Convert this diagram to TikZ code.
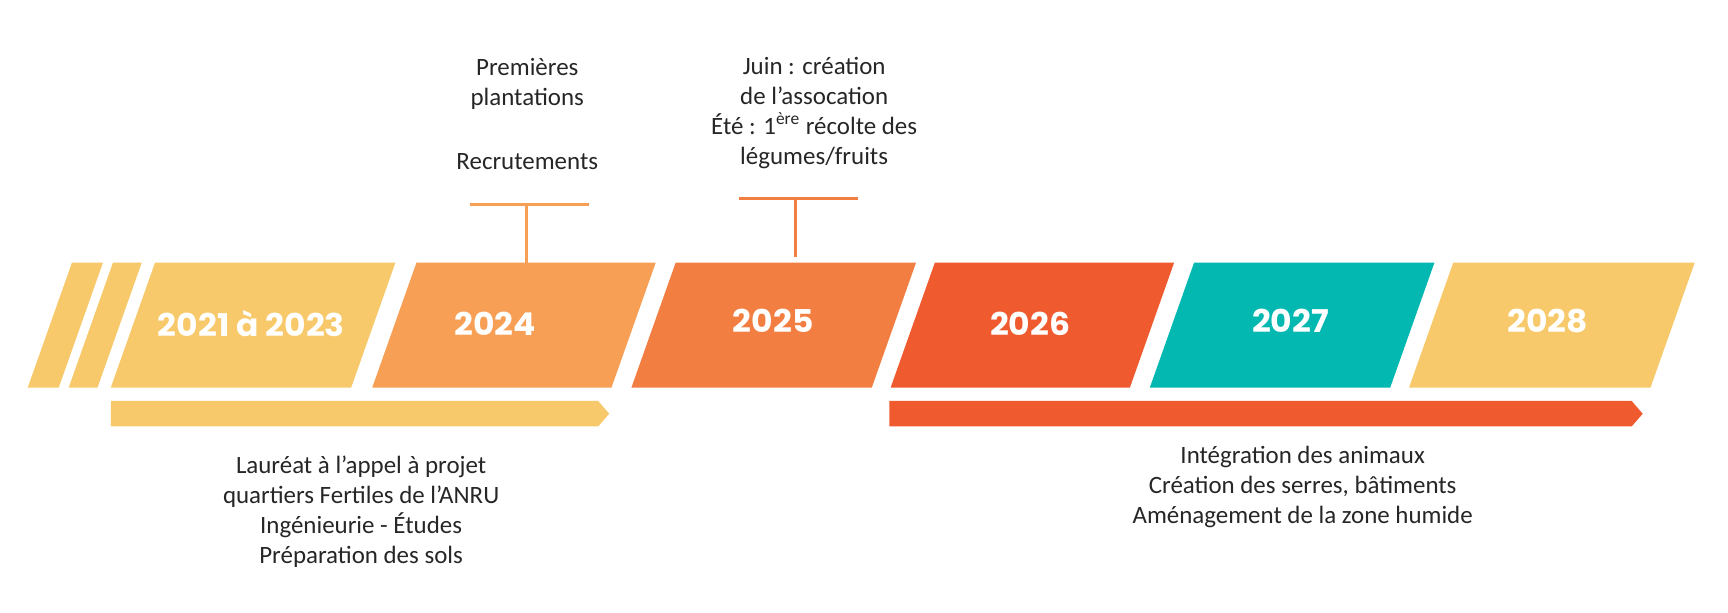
\documentclass[tikz,border=0pt]{standalone}
\usepackage{fontspec}
\setmainfont{Carlito}
\newfontfamily\yearfont{Poppins}[FakeStretch=1.05]
\usetikzlibrary{positioning}
\definecolor{cyellow}{HTML}{F8C96A}
\definecolor{corange}{HTML}{F79F55}
\definecolor{cdark}{HTML}{F27F41}
\definecolor{cred}{HTML}{EF5B2F}
\definecolor{cteal}{HTML}{02B8B0}
\tikzset{
  year/.style={text=white, font=\yearfont\bfseries\fontsize{17}{17}\selectfont},
  note/.style={align=center, font=\fontsize{13.5}{16.2}\selectfont, text=black!85},
  tick/.style={line width=1.6pt},
}
\newcommand{\slab}[3]{\fill[#3] (#1+40,237) -- (#2+40,237) -- (#2,350) -- (#1,350) -- cycle;}

\begin{document}
\begin{tikzpicture}[x=0.6pt,y=-0.6pt]
\useasboundingbox (0,0) rectangle (1560,553);
\slab{25}{53}{cyellow}
\slab{62}{88}{cyellow}
\slab{100}{317}{cyellow}
\slab{336}{552}{corange}
\slab{570}{787}{cdark}
\slab{804}{1020}{cred}
\slab{1038}{1255}{cteal}
\slab{1272}{1490}{cyellow}
\node[year] (y1) at (227,292) {2021 à 2023};
\node[year] (y2) at (447,292) {2024};
\node[year] (y3) at (698,290) {2025};
\node[year] (y4) at (930,292) {2026};
\node[year] (y5) at (1165,290) {2027};
\node[year] (y6) at (1397,290) {2028};
\fill[cyellow] (100,362) -- (540,362) -- (550,373.5) -- (540,385) -- (100,385) -- cycle;
\fill[cred] (803,362) -- (1473,362) -- (1483,373.5) -- (1473,385) -- (803,385) -- cycle;
\coordinate (t1) at (475,185);
\coordinate (t2) at (718,179);
\draw[corange, tick] (424,185) -- (532,185);
\draw[corange, tick] (t1) -- (475,237);
\draw[cdark, tick] (667,179) -- (775,179);
\draw[cdark, tick] (t2) -- (718,232);
\node[note] (n1) at (476,76) {Premières\\plantations};
\node[note] (n2) at (476,146) {Recrutements};
\node[note] (n3) at (735,102) {Juin : création\\de l’assocation\\Été : 1\textsuperscript{ère} récolte des\\légumes/fruits};
\node[note] (n4) at (326,462) {Lauréat à l’appel à projet\\quartiers Fertiles de l’ANRU\\Ingénieurie - Études\\Préparation des sols};
\node[note] (n5) at (1176,440) {Intégration des animaux\\Création des serres, bâtiments\\Aménagement de la zone humide};
\end{tikzpicture}
\end{document}
